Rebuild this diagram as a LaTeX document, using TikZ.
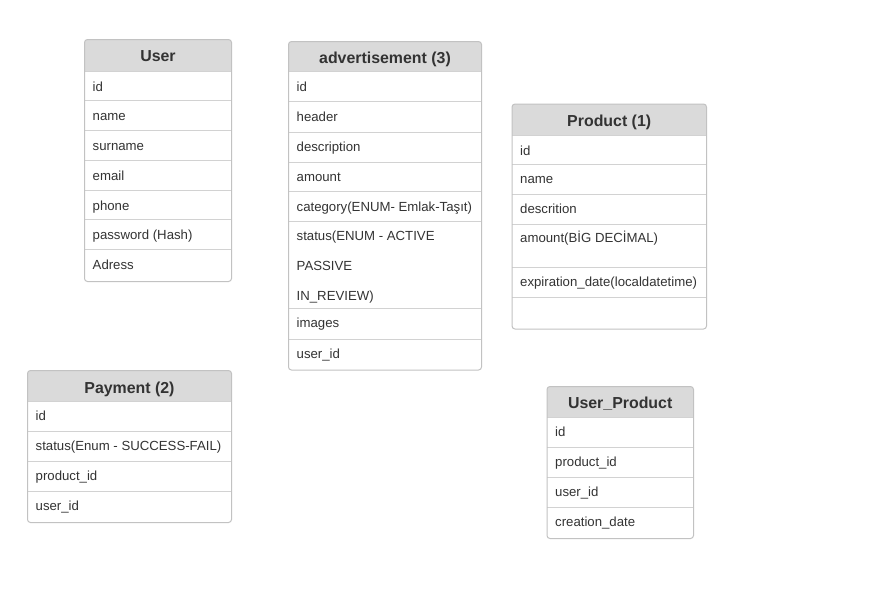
\documentclass[tikz,border=0pt]{standalone}
\usepackage{fontspec}
\setmainfont{Liberation Sans}
\definecolor{bordc}{HTML}{C2C2C2}
\definecolor{sepc}{HTML}{D2D2D2}
\definecolor{hdrc}{HTML}{DADADA}
\definecolor{txtc}{HTML}{333333}
\tikzset{
  tblborder/.style={draw=bordc, line width=1pt, rounded corners=3pt},
  sepline/.style={draw=sepc, line width=1pt},
  ttl/.style={font=\bfseries\fontsize{15.9}{18}\selectfont, text=txtc, inner sep=0pt, anchor=base},
  fld/.style={font=\fontsize{13.2}{15}\selectfont, text=txtc, inner sep=0pt, anchor=base west},
}
% #1 x1, #2 x2, #3 ytop, #4 yhead, #5 ybottom, #6 separator list
\newcommand\erbox[6]{%
  \fill[white, rounded corners=3pt] (#1,#3) rectangle (#2,#5);
  \begin{scope}
    \clip[rounded corners=3pt] (#1,#3) rectangle (#2,#5);
    \fill[hdrc] (#1,#3) rectangle (#2,#4);
  \end{scope}
  \draw[sepline] (#1,#4) -- (#2,#4);
  \foreach \s in {#6} {\draw[sepline] (#1,\s) -- (#2,\s);}
  \draw[tblborder] (#1,#3) rectangle (#2,#5);
}
\begin{document}
\begin{tikzpicture}[x=1pt, y=-1pt]
\useasboundingbox[fill=white] (0,0) rectangle (876,606);

% User
\erbox{84.5}{231.5}{39.5}{71}{281.5}{100.7,130.7,160.3,190,219.5,249}
\node[ttl] (user-title) at (158,61.7) {User};
\foreach \t/\y [count=\i] in {id/91, name/120.7, surname/150.5, email/180.2, phone/210, password (Hash)/239.5, Adress/269.3}
  \node[fld] (user-\i) at (92.5,\y) {\t};

% advertisement
\erbox{288.5}{481.5}{41.5}{71.5}{370}{101.5,132,162,191.5,221,308.5,339}
\node[ttl] (adv-title) at (385,63) {advertisement (3)};
\foreach \t/\y [count=\i] in {id/91.3, header/121.3, description/151.5, amount/181.5, category(ENUM- Emlak-Taşıt)/211, status(ENUM - ACTIVE/240.5, PASSIVE/270.7, IN\_REVIEW)/300.7, images/327.8, user\_id/358.2}
  \node[fld] (adv-\i) at (296.5,\y) {\t};

% Product
\erbox{512}{706.5}{104}{135}{329}{164.5,194.5,224.5,267,297}
\node[ttl] (prod-title) at (609.2,126.3) {Product (1)};
\foreach \t/\y [count=\i] in {id/155, name/183.7, descrition/213.5, amount(BİG DECİMAL)/242.7, expiration\_date(localdatetime)/286}
  \node[fld] (prod-\i) at (520,\y) {\t};

% Payment
\erbox{27.5}{231.5}{370.5}{401.5}{522.5}{431.5,461.5,491.5}
\node[ttl] (pay-title) at (129.5,393) {Payment (2)};
\foreach \t/\y [count=\i] in {id/420.5, status(Enum - SUCCESS-FAIL)/450.5, product\_id/480.5, user\_id/510.5}
  \node[fld] (pay-\i) at (35.5,\y) {\t};

% User_Product
\erbox{547}{693.5}{386.5}{417.5}{538.5}{447.5,477.5,507.5}
\node[ttl] (up-title) at (620.2,408.3) {User\_Product};
\foreach \t/\y [count=\i] in {id/436.8, product\_id/466.8, user\_id/496.8, creation\_date/526.3}
  \node[fld] (up-\i) at (555,\y) {\t};
\end{tikzpicture}
\end{document}
